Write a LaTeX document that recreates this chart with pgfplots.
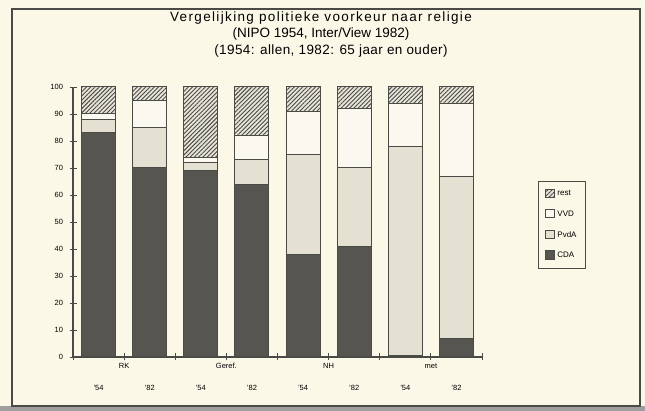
\documentclass[border=0pt]{standalone}
\usepackage{pgfplots}
\pgfplotsset{compat=1.18}
\usepackage{fontspec}
\setmainfont{Liberation Sans}
\usetikzlibrary{patterns.meta}
\definecolor{cream}{HTML}{FBF8E8}
\definecolor{cdac}{HTML}{57554F}
\definecolor{pvdac}{HTML}{E4E1D3}
\definecolor{vvdc}{HTML}{FBF9EF}
\definecolor{restc}{HTML}{E8E5D8}
\definecolor{edge}{HTML}{4A4A47}
\begin{document}
\begin{tikzpicture}[x=1pt,y=1pt]
\fill[cream] (0,0) rectangle (645,411);
\fill[gray!75] (0,0) rectangle (645,5);
\draw[edge,line width=1.2pt] (12,5) rectangle (640,402);
\node[font=\fontsize{13.5}{16}\selectfont\addfontfeature{LetterSpace=10}] at (321,393) {Vergelijking politieke voorkeur naar religie};
\node[font=\fontsize{13.5}{16}\selectfont] at (321,377) {(NIPO 1954, Inter/View 1982)};
\node[font=\fontsize{13.5}{16}\selectfont\addfontfeature{LetterSpace=3}] at (331,360) {(1954: allen, 1982: 65 jaar en ouder)};
\begin{axis}[
  at={(73pt,54pt)}, anchor=south west,
  width=409pt, height=270pt, scale only axis,
  xmin=0, xmax=8, ymin=0, ymax=100,
  axis x line=bottom, axis y line=left,
  axis line style={-, edge, line width=1.2pt},
  ybar stacked, bar width=0.665,
  xtick={0,1,...,8}, xticklabels={},
  ytick={0,10,...,100},
  tick align=center,
  major tick length=7pt,
  tick style={edge, line width=0.9pt},
  yticklabel style={font=\fontsize{7.5}{8}\selectfont, xshift=-3pt},
  /pgf/number format/assume math mode=true,
  clip=false,
  every axis plot/.append style={draw=edge, line width=1pt},
  legend style={at={(1.137,0.489)}, anchor=west, draw=edge, line width=0.8pt, fill=cream,
    font=\fontsize{8}{9}\selectfont, row sep=9.5pt, inner xsep=7pt, inner ysep=7pt,
    cells={anchor=west}},
  legend image code/.code={\draw[#1] (0pt,-3.5pt) rectangle (9pt,5pt);},
  reverse legend,
]
\addplot[fill=cdac] coordinates {(0.5,83) (1.5,70) (2.5,69) (3.5,64) (4.5,38) (5.5,41) (6.5,0.5) (7.5,7)};
\addplot[fill=pvdac] coordinates {(0.5,5) (1.5,15) (2.5,3) (3.5,9) (4.5,37) (5.5,29) (6.5,77.5) (7.5,60)};
\addplot[fill=vvdc] coordinates {(0.5,2) (1.5,10) (2.5,2) (3.5,9) (4.5,16) (5.5,22) (6.5,16) (7.5,27)};
\addplot[fill=restc, postaction={pattern={Lines[angle=45,distance=3pt,line width=0.9pt]}, pattern color=edge}] coordinates {(0.5,10) (1.5,5) (2.5,26) (3.5,18) (4.5,9) (5.5,8) (6.5,6) (7.5,6)};
\legend{CDA,PvdA\hspace{12pt},VVD,rest}
\foreach \x/\t in {1/RK,3/Geref.,5/NH,7/met} {
  \edef\tmp{\noexpand\node[font=\noexpand\fontsize{7.5}{9}\noexpand\selectfont] at (axis cs:\x,0) [yshift=-9pt] {\t};}
  \tmp
}
\foreach \x/\t in {0.5/'54,1.5/'82,2.5/'54,3.5/'82,4.5/'54,5.5/'82,6.5/'54,7.5/'82} {
  \edef\tmp{\noexpand\node[font=\noexpand\fontsize{7.5}{9}\noexpand\selectfont] at (axis cs:\x,0) [yshift=-31pt] {\t};}
  \tmp
}
\end{axis}
\end{tikzpicture}
\end{document}
